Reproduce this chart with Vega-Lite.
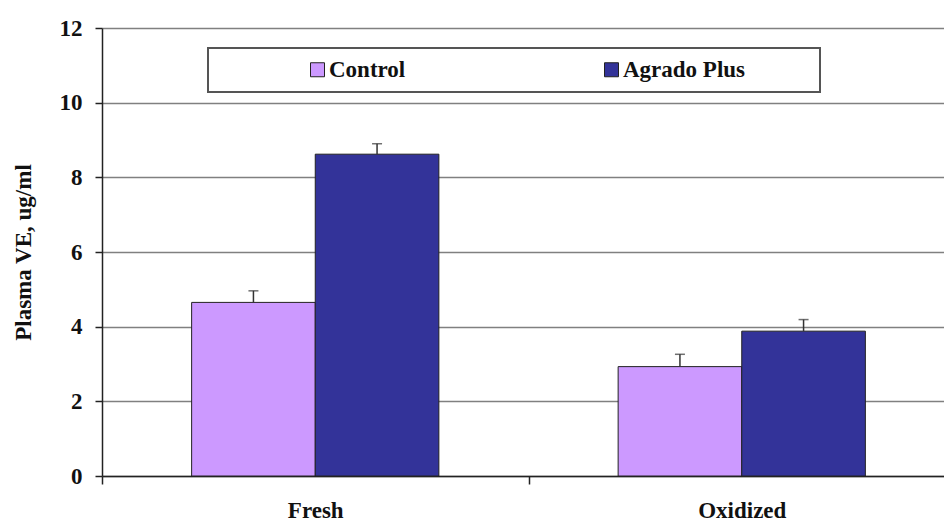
{
  "$schema": "https://vega.github.io/schema/vega-lite/v6.json",
  "width": 842,
  "height": 448,
  "autosize": {"type": "none"},
  "padding": {"left": 102, "top": 28, "right": 0, "bottom": 45},
  "background": "white",
  "config": {"view": {"stroke": null}, "font": "'Liberation Serif', 'Times New Roman', serif", "legend": {"strokeWidth": 2}},
  "data": {
    "values": [
      {"condition": "Fresh", "group": "Control", "value": 4.65, "upper": 4.96},
      {"condition": "Fresh", "group": "Agrado Plus", "value": 8.62, "upper": 8.9},
      {"condition": "Oxidized", "group": "Control", "value": 2.93, "upper": 3.26},
      {"condition": "Oxidized", "group": "Agrado Plus", "value": 3.88, "upper": 4.19}
    ]
  },
  "encoding": {
    "x": {
      "field": "condition",
      "type": "nominal",
      "sort": ["Fresh", "Oxidized"],
      "scale": {"paddingInner": 0, "paddingOuter": 0, "range": [0, 853]},
      "axis": {
        "title": null,
        "labelAngle": 0,
        "tickBand": "extent",
        "tickSize": 8,
        "tickColor": "#222",
        "tickWidth": 1.5,
        "domainColor": "#222",
        "domainWidth": 1.5,
        "labelFont": "'Liberation Serif', 'Times New Roman', serif",
        "labelFontWeight": "bold",
        "labelFontSize": 23,
        "labelColor": "#111",
        "labelPadding": 15,
        "grid": false
      }
    },
    "xOffset": {
      "field": "group",
      "type": "nominal",
      "sort": ["Control", "Agrado Plus"],
      "scale": {"paddingInner": 0, "paddingOuter": 0.725}
    }
  },
  "layer": [
    {
      "mark": {"type": "bar", "stroke": "#222", "strokeWidth": 1},
      "encoding": {
        "y": {
          "field": "value",
          "type": "quantitative",
          "scale": {"domain": [0, 12], "nice": false},
          "axis": {
            "title": "Plasma VE, ug/ml",
            "titleFont": "'Liberation Serif', 'Times New Roman', serif",
            "titleFontWeight": "bold",
            "titleFontSize": 23,
            "titleColor": "#111",
            "titlePadding": 24,
            "values": [0, 2, 4, 6, 8, 10, 12],
            "grid": true,
            "gridColor": "#808080",
            "gridWidth": 1.5,
            "domainColor": "#222",
            "domainWidth": 1.5,
            "tickColor": "#222",
            "tickWidth": 1.5,
            "tickSize": 7,
            "labelFont": "'Liberation Serif', 'Times New Roman', serif",
            "labelFontWeight": "bold",
            "labelFontSize": 23,
            "labelColor": "#111",
            "labelPadding": 13
          }
        },
        "color": {
          "field": "group",
          "type": "nominal",
          "sort": ["Control", "Agrado Plus"],
          "scale": {"domain": ["Control", "Agrado Plus"], "range": ["#CC99FF", "#333399"]},
          "legend": {
            "orient": "none",
            "legendX": 106,
            "legendY": 20,
            "direction": "horizontal",
            "columns": 2,
            "title": "\u00a0",
            "titleOrient": "right",
            "titleFontSize": 1,
            "titlePadding": 65,
            "symbolType": "square",
            "symbolSize": 196,
            "symbolStrokeColor": "#222",
            "symbolStrokeWidth": 1,
            "symbolOpacity": 1,
            "symbolOffset": 88,
            "labelOffset": 0,
            "columnPadding": 106,
            "labelFont": "'Liberation Serif', 'Times New Roman', serif",
            "labelFontWeight": "bold",
            "labelFontSize": 23,
            "labelColor": "#111",
            "strokeColor": "#555",
            "padding": 10,
            "fillColor": "white"
          }
        }
      }
    },
    {
      "mark": {"type": "rule", "color": "#333", "strokeWidth": 1.5},
      "encoding": {
        "y": {"field": "value", "type": "quantitative"},
        "y2": {"field": "upper"}
      }
    },
    {
      "mark": {"type": "tick", "color": "#333", "thickness": 1.5, "size": 10},
      "encoding": {
        "y": {"field": "upper", "type": "quantitative"}
      }
    }
  ]
}
